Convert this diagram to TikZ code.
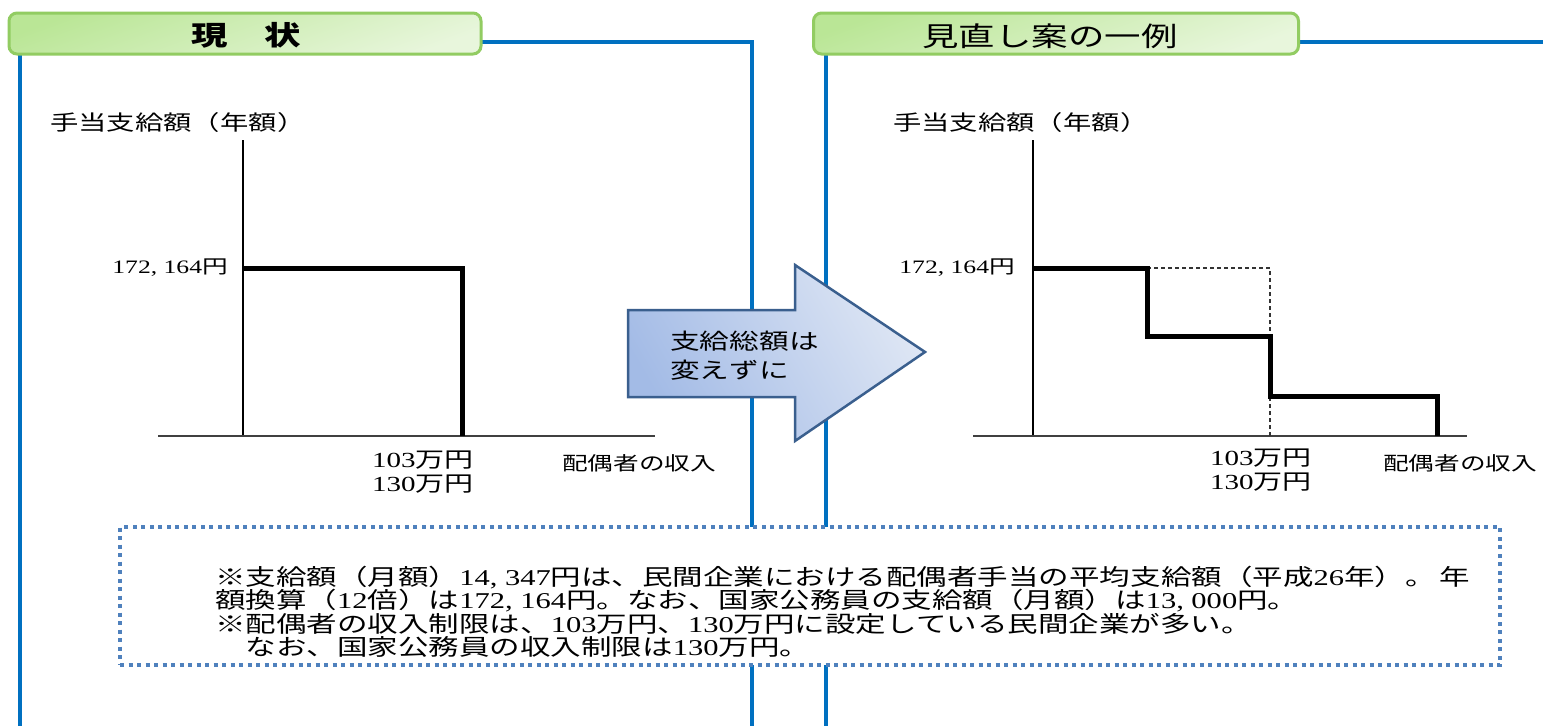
\documentclass[tikz,border=0pt]{standalone}
\usepackage{fontspec}
\setmainfont[FakeStretch=1.35]{Noto Sans CJK JP}
\newfontfamily\lat[FakeStretch=1.35]{Liberation Serif}
\newcommand\dg[1]{{\lat #1}}
\usetikzlibrary{calc}
\definecolor{panelblue}{HTML}{0070C0}
\definecolor{noteblue}{HTML}{4F81BD}
\definecolor{arrowedge}{HTML}{3A5F8E}
\definecolor{arrowA}{HTML}{A3BBE6}
\definecolor{arrowB}{HTML}{DEE6F4}
\definecolor{greenedge}{HTML}{92CC62}
\definecolor{greenA}{HTML}{BAE696}
\definecolor{greenB}{HTML}{E8F6DC}
\tikzset{
  panelline/.style={draw=panelblue, line width=3.2pt},
  titlebox/.style={draw=greenedge, line width=3pt, rounded corners=8pt,
    top color=greenA, bottom color=greenB, shading angle=20,
    minimum width=472pt, minimum height=41pt, inner sep=0pt},
  titletext/.style={font=\fontsize{27}{30}\selectfont},
  axisline/.style={draw=black, line width=2pt},
  xaxisline/.style={draw=black!75, line width=2pt},
  stepline/.style={draw=black, line width=5pt, line join=miter},
  guide/.style={draw=black!80, line width=1.2pt, dash pattern=on 4pt off 3pt},
  axislabel/.style={font=\fontsize{21}{24}\selectfont, inner sep=0pt},
  incomelabel/.style={font=\fontsize{19}{22}\selectfont, inner sep=0pt},
  amountlabel/.style={font=\fontsize{19}{22}\selectfont, inner sep=0pt},
  limitlabel/.style={font=\fontsize{21.5}{24}\selectfont, inner sep=0pt, align=left},
  notebox/.style={draw=noteblue, fill=white, line width=4pt, dash pattern=on 4pt off 4.5pt},
  notetext/.style={font=\fontsize{22.6}{23.3}\selectfont, inner sep=0pt, align=left},
  arrowshape/.style={draw=arrowedge, line width=2.5pt, line join=miter,
    left color=arrowA, right color=arrowB, shading angle=120},
  arrowtext/.style={font=\fontsize{22}{29}\selectfont, inner sep=0pt, align=left}
}
\begin{document}
\begin{tikzpicture}[x=1pt,y=-1pt]
\useasboundingbox[fill=white] (0,0) rectangle (1543,726);

% panel frames
\coordinate (l1) at (482,42);
\coordinate (l2) at (752,42);
\coordinate (l3) at (752,726);
\coordinate (l4) at (20,50);
\coordinate (l5) at (20,726);
\coordinate (r1) at (1300,42);
\coordinate (r2) at (1543,42);
\coordinate (r4) at (826,50);
\coordinate (r5) at (826,726);
\draw[panelline] (l1) -- (l2) -- (l3);
\draw[panelline] (l4) -- (l5);
\draw[panelline] (r1) -- (r2);
\draw[panelline] (r4) -- (r5);

% titles
\node[titlebox] (t1) at (245,33.5) {};
\node[titletext, font=\fontsize{27}{30}\selectfont\bfseries] (t1text) at (246,35) {現　状};
\node[titlebox, minimum width=485pt] (t2) at (1056,33.5) {};
\node[titletext] (t2text) at (1050,36) {見直し案の一例};

% ---------- left chart ----------
\node[axislabel, anchor=west] (ylab1) at (50,123) {手当支給額（年額）};
\coordinate (ya1) at (243,140);
\coordinate (o1) at (243,436);
\coordinate (xa1s) at (158,436);
\coordinate (xa1e) at (655,436);
\draw[axisline] (ya1) -- (o1);
\draw[xaxisline] (xa1s) -- (xa1e);
\coordinate (s1a) at (243,268);
\coordinate (s1b) at (462,268);
\coordinate (s1c) at (462,436);
\draw[stepline] (s1a) -- (s1b) -- (s1c);
\node[amountlabel, anchor=east] (amt1) at (228,268) {\dg{172, 164}円};
\node[limitlabel, anchor=north west] (lim1) at (372,451) {\dg{103}万円\\[0pt]\dg{130}万円};
\node[incomelabel, anchor=west] (inc1) at (562,463) {配偶者の収入};

% ---------- right chart ----------
\node[axislabel, anchor=west] (ylab2) at (893,123) {手当支給額（年額）};
\coordinate (ya2) at (1033,140);
\coordinate (o2) at (1033,436);
\coordinate (xa2s) at (973,436);
\coordinate (xa2e) at (1467,436);
\draw[axisline] (ya2) -- (o2);
\draw[xaxisline] (xa2s) -- (xa2e);
\coordinate (s2a) at (1033,268);
\coordinate (s2b) at (1147,268);
\coordinate (s2c) at (1147,336);
\coordinate (s2d) at (1270,336);
\coordinate (s2e) at (1270,396);
\coordinate (s2f) at (1437,396);
\coordinate (s2g) at (1437,436);
\coordinate (g1) at (1270,268);
\coordinate (g2) at (1270,436);
\draw[guide] (s2b) -- (g1) -- (g2);
\draw[stepline] (s2a) -- (s2b) -- (s2c) -- (s2d) -- (s2e) -- (s2f) -- (s2g);
\node[amountlabel, anchor=east] (amt2) at (1015,268) {\dg{172, 164}円};
\node[limitlabel, anchor=north west] (lim2) at (1210,449) {\dg{103}万円\\[0pt]\dg{130}万円};
\node[incomelabel, anchor=west] (inc2) at (1383,463) {配偶者の収入};

% ---------- arrow ----------
\path[arrowshape] (628,310) -- (795,310) -- (795,265) -- (925,352) -- (795,441) -- (795,397) -- (628,397) -- cycle;
\node[arrowtext, anchor=north west] (arr) at (670,331) {支給総額は\\変えずに};

% ---------- notes ----------
\node[notebox, minimum width=1380pt, minimum height=138pt] (nb) at (810,596) {};
\node[notetext, anchor=north west] (notes) at (215,566) {%
※支給額（月額）\dg{14, 347}円は、民間企業における配偶者手当の平均支給額（平成\dg{26}年）。\,年\\
額換算（\dg{12}倍）は\dg{172, 164}円。なお、国家公務員の支給額（月額）は\dg{13, 000}円。\\
※配偶者の収入制限は、\dg{103}万円、\dg{130}万円に設定している民間企業が多い。\\
　なお、国家公務員の収入制限は\dg{130}万円。};
\end{tikzpicture}
\end{document}
